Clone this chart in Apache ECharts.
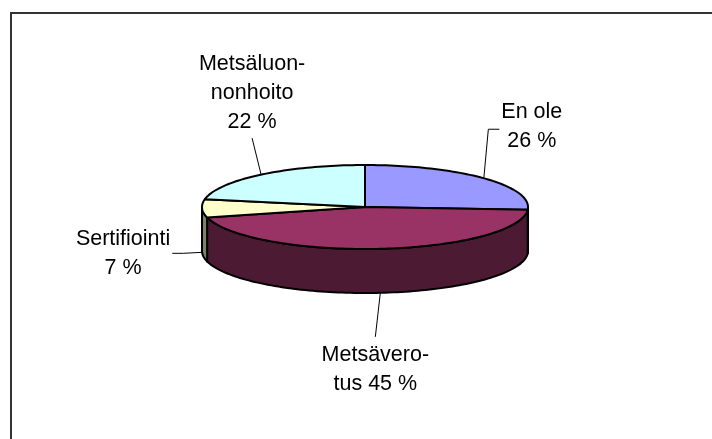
<!DOCTYPE html>
<html><head><meta charset="utf-8">
<script src="https://cdn.jsdelivr.net/npm/echarts/dist/echarts.min.js"></script>
<style>html,body{margin:0;padding:0;background:#fff}#c{width:712px;height:439px}</style>
</head><body><div id="c"></div>
<script>
// ---- data ----
const categories = ['En ole', 'Metsäverotus', 'Sertifiointi', 'Metsäluonnonhoito'];
const labelNames = ['En ole', 'Metsävero-\ntus', 'Sertifiointi', 'Metsäluon-\nnonhoito'];
const values = [26, 45, 7, 22];
const labelJoins = ['\n', ' ', '\n', '\n'];

// ---- style / layout ----
const topColors = ['#9999FF', '#993366', '#FFFFCC', '#CCFFFF'];
const sideColors = ['#4D4D80', '#4D1A33', '#808066', '#668080'];
const PIE = { cx: 365, cy: 207, rx: 163, ry: 42, depth: 44 };
const LABEL_OFFSET = [[48, -52], [-5, 77], [-79, 1], [-9, -82]];
const FONT_SIZE = 21.5, LINE_H = 29, FONT_FAMILY = '"Liberation Sans", Arial, sans-serif';

const total = values.reduce((a, b) => a + b, 0);
const starts = [];
values.reduce((acc, v, i) => { starts[i] = acc / total * 360; return acc + v; }, 0);

function pt(theta, dz) {
  const r = theta * Math.PI / 180;
  return [PIE.cx + PIE.rx * Math.sin(r), PIE.cy - PIE.ry * Math.cos(r) + dz];
}
function arc(a, b, dz) {
  const n = Math.max(2, Math.ceil(Math.abs(b - a) / 1.5));
  const out = [];
  for (let k = 0; k <= n; k++) out.push(pt(a + (b - a) * k / n, dz));
  return out;
}
const measureCtx = document.createElement('canvas').getContext('2d');
measureCtx.font = FONT_SIZE + 'px ' + FONT_FAMILY;

function sliceAngles(i, v) {
  return [starts[i], starts[i] + v / total * 360];
}

function renderSide(params, api) {
  const i = params.dataIndex;
  const [a1, a2] = sliceAngles(i, api.value(0));
  const lo = Math.max(a1, 90), hi = Math.min(a2, 270);
  if (hi <= lo) return { type: 'group', children: [] };
  const pts = arc(lo, hi, 0).concat(arc(hi, lo, PIE.depth));
  return { type: 'polygon', shape: { points: pts },
    style: { fill: sideColors[i], stroke: '#000', lineWidth: 2, lineJoin: 'round' } };
}
function renderTop(params, api) {
  const i = params.dataIndex;
  const [a1, a2] = sliceAngles(i, api.value(0));
  const pts = [[PIE.cx, PIE.cy]].concat(arc(a1, a2, 0));
  return { type: 'polygon', shape: { points: pts },
    style: { fill: topColors[i], stroke: '#000', lineWidth: 2, lineJoin: 'round' } };
}
function renderLabel(params, api) {
  const i = params.dataIndex;
  const v = api.value(0);
  const [a1, a2] = sliceAngles(i, v);
  const mid = (a1 + a2) / 2;
  const front = Math.cos(mid * Math.PI / 180) < 0;
  const anchor = pt(mid, front ? PIE.depth : 0);
  const lx = anchor[0] + LABEL_OFFSET[i][0], ly = anchor[1] + LABEL_OFFSET[i][1];
  const text = labelNames[i] + labelJoins[i] + v + ' %';
  const lines = text.split('\n');
  const w = Math.max(...lines.map(l => measureCtx.measureText(l).width));
  const h = lines.length * LINE_H;
  const left = lx - w / 2, right = lx + w / 2, top = ly - h / 2, bottom = ly + h / 2;
  let leader;
  if (anchor[0] < left) leader = [anchor, [left - 13, ly + 3], [left - 2, ly + 3]];
  else if (anchor[0] > right) leader = [anchor, [right + 13, ly], [right + 2, ly]];
  else if (anchor[1] < top) leader = [anchor, [lx, top - 4]];
  else leader = [anchor, [lx, bottom + 2]];
  return { type: 'group', children: [
    { type: 'polyline', shape: { points: leader }, style: { stroke: '#000', lineWidth: 1, fill: null } },
    { type: 'text', x: lx, y: ly, style: { text: text, fill: '#000', fontSize: FONT_SIZE,
      fontFamily: FONT_FAMILY, align: 'center', verticalAlign: 'middle', lineHeight: LINE_H } }
  ] };
}

const data = values.map((v, i) => ({ name: categories[i], value: [v] }));
const chart = echarts.init(document.getElementById('c'), null, { renderer: 'canvas' });
chart.setOption({
  animation: false,
  backgroundColor: '#fff',
  graphic: [{ type: 'rect', shape: { x: 11, y: 13, width: 720, height: 440 },
    style: { fill: 'transparent', stroke: '#333', lineWidth: 2 }, z: 0 }],
  series: [
    { type: 'custom', coordinateSystem: 'none', renderItem: renderSide, data: data, z: 1, silent: true },
    { type: 'custom', coordinateSystem: 'none', renderItem: renderTop, data: data, z: 2, silent: true },
    { type: 'custom', coordinateSystem: 'none', renderItem: renderLabel, data: data, z: 3, silent: true }
  ]
});
</script></body></html>
